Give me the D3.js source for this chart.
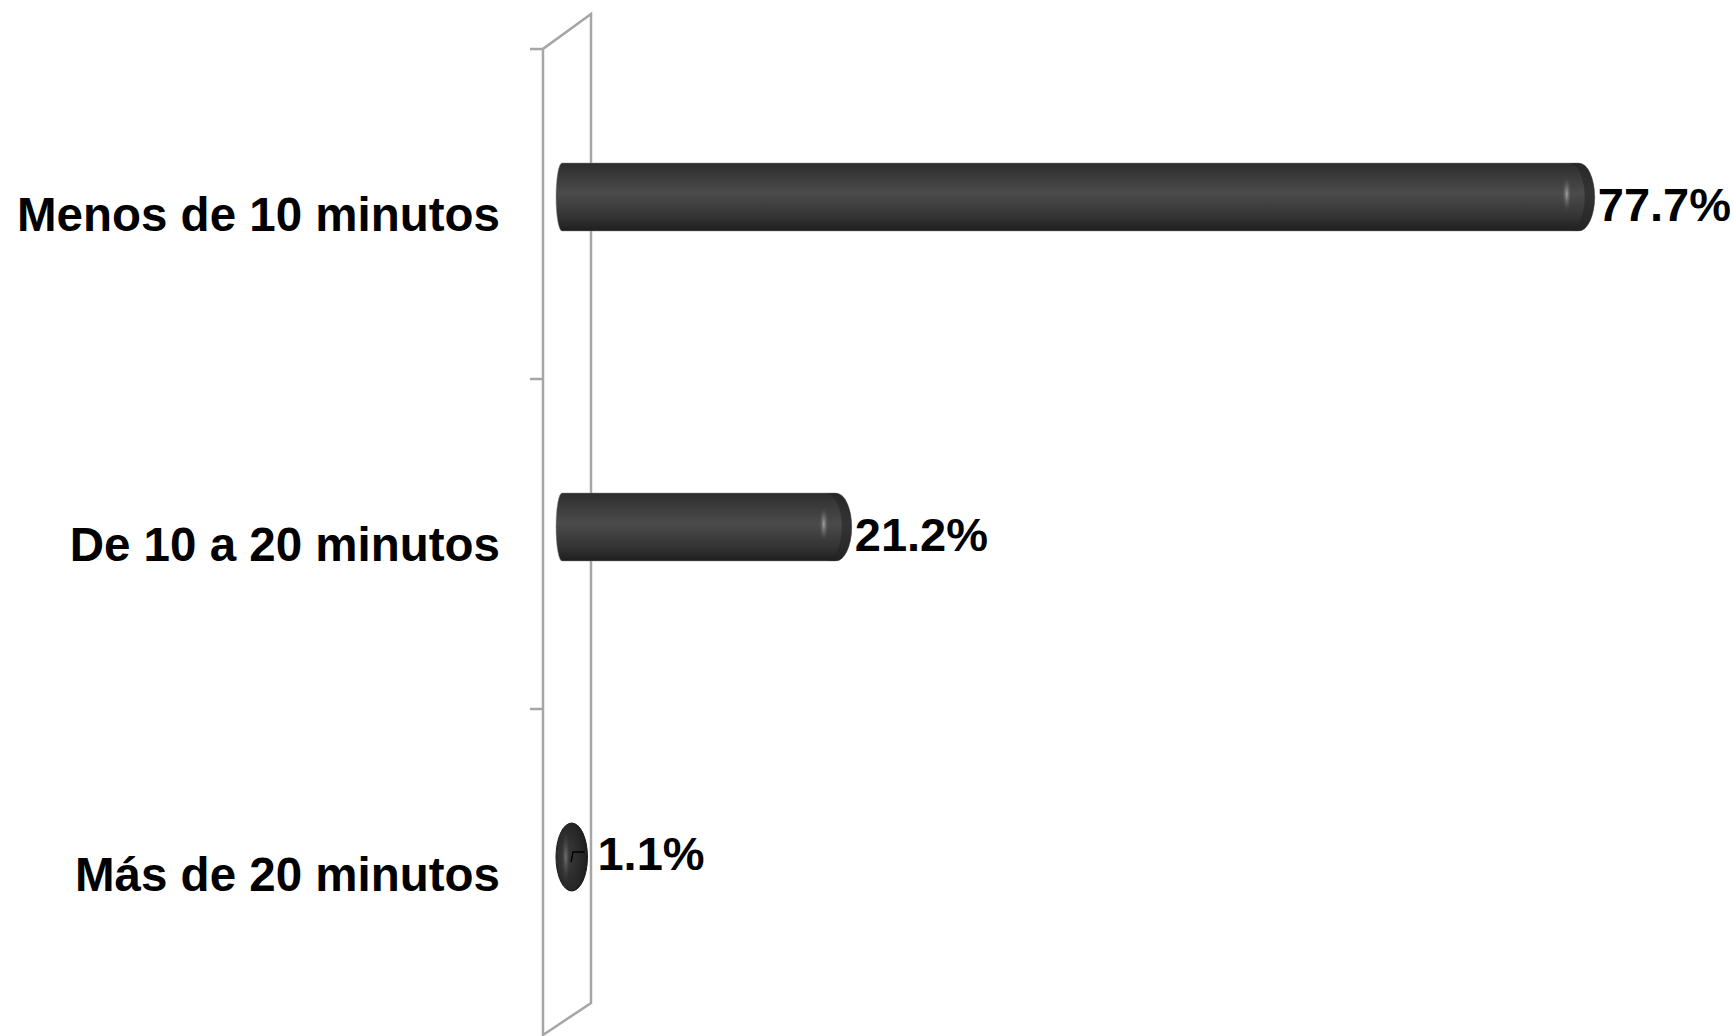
<!DOCTYPE html>
<meta charset="utf-8">
<style>
    body { margin: 0; background: #fff; }
    text {
        font-family: "Liberation Sans", Arial, sans-serif;
        font-weight: bold;
        fill: #000;
    }
    .wall { fill: none; stroke: #a6a6a6; stroke-width: 2.5px; }
    .tick { stroke: #a6a6a6; stroke-width: 2.5px; }
</style>
<body>
    <svg width="1733" height="1036"></svg>
</body>
<script src="https://d3js.org/d3.v7.min.js"></script>
<script>
    // data
    var categories = ["Menos de 10 minutos", "De 10 a 20 minutos", "Más de 20 minutos"];
    var values = [77.7, 21.2, 1.1];
    var valueLabels = ["77.7%", "21.2%", "1.1%"];

    var svg = d3.select("svg"),
        width = +svg.attr("width"),
        height = +svg.attr("height");

    // 3d depth of the floor / wall
    var depthX = 48, depthY = -35;
    var plotTop = 49, plotBottom = 1039;
    var wallX = 543;

    var y = d3.scaleBand()
        .domain(categories)
        .range([plotTop, plotBottom])
        .paddingInner(0.794)
        .paddingOuter(0.397);

    var x = d3.scaleLinear()
        .domain([0, 80])
        .range([573, 573 + 13.15 * 80]);

    // gradient for the cylinders
    var defs = svg.append("defs");
    var grad = defs.append("linearGradient")
        .attr("id", "barGrad")
        .attr("x1", 0).attr("y1", 0).attr("x2", 0).attr("y2", 1);
    grad.append("stop").attr("offset", "0%").attr("stop-color", "#2c2c2c");
    grad.append("stop").attr("offset", "15%").attr("stop-color", "#383838");
    grad.append("stop").attr("offset", "45%").attr("stop-color", "#4b4b4b");
    grad.append("stop").attr("offset", "80%").attr("stop-color", "#333333");
    grad.append("stop").attr("offset", "100%").attr("stop-color", "#1e1e1e");

    var capGrad = defs.append("radialGradient")
        .attr("id", "capGrad")
        .attr("cx", "35%").attr("cy", "50%").attr("r", "65%");
    capGrad.append("stop").attr("offset", "0%").attr("stop-color", "#3c3c3c");
    capGrad.append("stop").attr("offset", "100%").attr("stop-color", "#1f1f1f");

    var hl = defs.append("radialGradient").attr("id", "hlGrad");
    hl.append("stop").attr("offset", "0%").attr("stop-color", "#a8a8a8").attr("stop-opacity", 0.95);
    hl.append("stop").attr("offset", "100%").attr("stop-color", "#555").attr("stop-opacity", 0);

    // side wall
    svg.append("path")
        .attr("class", "wall")
        .attr("d", "M" + wallX + "," + plotTop + " L" + wallX + "," + (plotBottom - 4)
            + " L" + (wallX + depthX) + "," + (plotBottom - 4 + depthY + 3)
            + " L" + (wallX + depthX) + "," + (plotTop + depthY)
            + " Z");

    // category ticks
    svg.selectAll(".tick")
        .data(categories)
        .enter().append("line")
        .attr("class", "tick")
        .attr("x1", wallX - 13).attr("x2", wallX)
        .attr("y1", function (d) { return y(d) + y.bandwidth() / 2 - y.step() / 2; })
        .attr("y2", function (d) { return y(d) + y.bandwidth() / 2 - y.step() / 2; });

    // category labels
    svg.selectAll(".cat")
        .data(categories)
        .enter().append("text")
        .attr("class", "cat")
        .attr("x", 500)
        .attr("y", function (d) { return y(d) + y.bandwidth() / 2 + 17; })
        .attr("text-anchor", "end")
        .style("font-size", "47.5px")
        .text(function (d) { return d; });

    var capR = 16, leftR = 6;
    var barOff = -17;

    var bars = svg.selectAll(".bar")
        .data(values)
        .enter().append("g")
        .attr("class", "bar");

    bars.each(function (v, i) {
        var g = d3.select(this);
        var top = y(categories[i]) + barOff;
        var h = y.bandwidth();
        var bot = top + h;
        var cy = top + h / 2;
        var left = x(0) - 17;
        var right = x(v);

        if (right - left <= 2 * capR + 2) {
            g.append("ellipse")
                .attr("cx", (left + right) / 2).attr("cy", cy)
                .attr("rx", (right - left) / 2).attr("ry", h / 2)
                .attr("fill", "url(#capGrad)")
                .attr("stroke", "#1a1a1a").attr("stroke-width", 1);
            g.append("ellipse")
                .attr("cx", (left + right) / 2 - 6).attr("cy", cy)
                .attr("rx", 4).attr("ry", h / 2 - 8)
                .attr("fill", "url(#hlGrad)").attr("opacity", 0.5);
        } else {
            g.append("path")
                .attr("d", "M" + (left + leftR) + "," + top
                    + " L" + (right - capR) + "," + top
                    + " A" + capR + "," + (h / 2) + " 0 0 1 " + (right - capR) + "," + bot
                    + " L" + (left + leftR) + "," + bot
                    + " A" + leftR + "," + (h / 2) + " 0 0 1 " + (left + leftR) + "," + top
                    + " Z")
                .attr("fill", "url(#barGrad)")
                .attr("stroke", "#8a8a8a").attr("stroke-width", 0.8).attr("stroke-opacity", 0.6);
            // end cap shading
            g.append("path")
                .attr("d", "M" + (right - capR - 10) + "," + top
                    + " L" + (right - capR) + "," + top
                    + " A" + capR + "," + (h / 2) + " 0 0 1 " + (right - capR) + "," + bot
                    + " L" + (right - capR - 10) + "," + bot
                    + " A" + capR + "," + (h / 2) + " 0 0 0 " + (right - capR - 10) + "," + top
                    + " Z")
                .attr("fill", "#252525").attr("opacity", 0.6);
            g.append("ellipse")
                .attr("cx", right - 28).attr("cy", cy - 3)
                .attr("rx", 4.5).attr("ry", 17)
                .attr("fill", "url(#hlGrad)");
        }

        // labels
        var small = v < 5;
        var lx = small ? right + 10 : right + 3;
        if (small) {
            g.append("path")
                .attr("d", "M" + (x(0) - 2) + "," + (cy + 5) + " L" + x(0) + "," + (cy - 5) + " L" + (right - 3) + "," + (cy - 5))
                .attr("fill", "none").attr("stroke", "#000").attr("stroke-width", 1.5);
        }
        g.append("text")
            .attr("x", lx)
            .attr("y", cy + (small ? 13 : 24))
            .style("font-size", "47px")
            .text(valueLabels[i]);
    });
</script>
